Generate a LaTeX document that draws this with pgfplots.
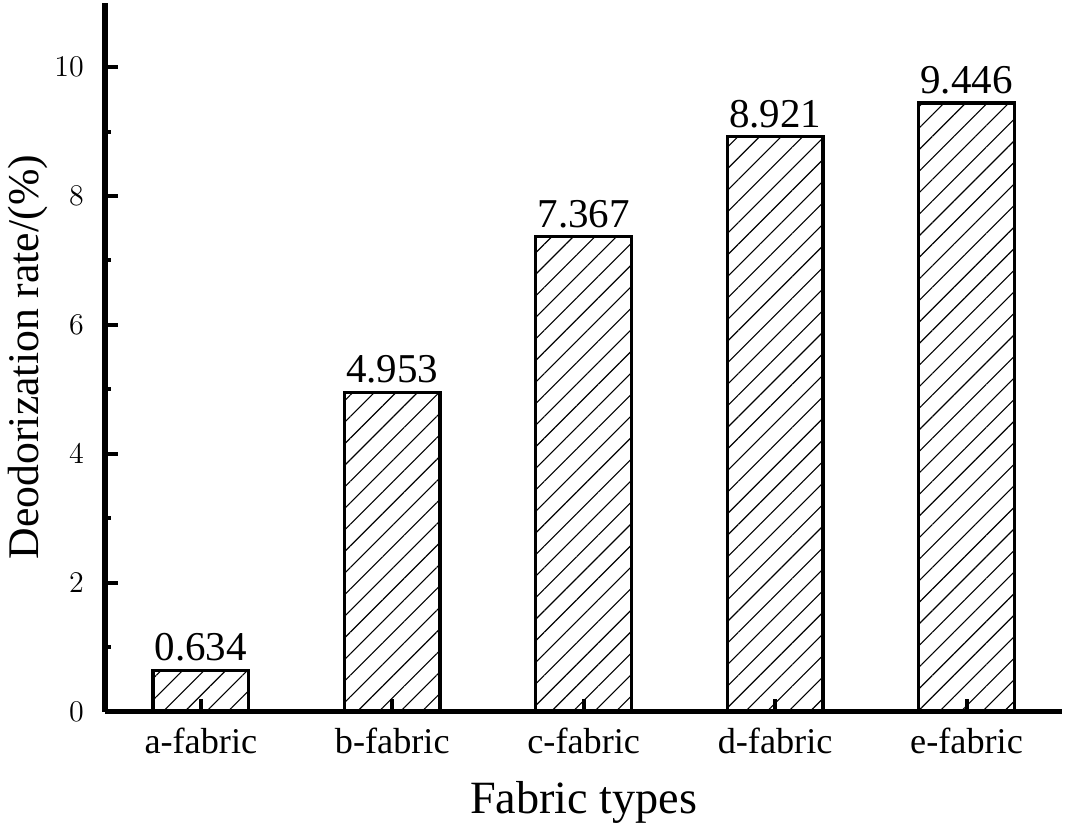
\documentclass[border=0pt]{standalone}
\usepackage{fontspec}
\setmainfont{Liberation Serif}
\usepackage{pgfplots}
\pgfplotsset{compat=1.18}
\usetikzlibrary{patterns.meta}
\begin{document}
\begin{tikzpicture}
\begin{axis}[
  width=383pt, height=283.6pt, scale only axis,
  xmin=-0.5, xmax=4.5, ymin=0, ymax=11,
  axis x line=bottom, axis y line=left,
  axis line style={line width=2.2pt, -},
  axis on top,
  ybar, bar width=0.5,
  xtick={0,1,2,3,4},
  xticklabels={a-fabric,b-fabric,c-fabric,d-fabric,e-fabric},
  ytick={0,2,4,6,8,10},
  minor y tick num=1,
  tick align=inside,
  major tick length=5pt, minor tick length=2.2pt,
  every tick/.style={black, line width=1.6pt},
  x tick label style={font=\fontsize{14.5}{16}\selectfont, yshift=-3pt},
  y tick label style={font=\fontsize{12}{14}\selectfont, xshift=-5pt},
  xlabel={Fabric types},
  ylabel={Deodorization rate/(\%)},
  xlabel style={font=\fontsize{18.5}{20}\selectfont, at={(axis description cs:0.5,-0.128)}, anchor=center},
  ylabel style={font=\fontsize{17.5}{19}\selectfont, at={(axis description cs:-0.0804,0.5)}, anchor=center},
  nodes near coords,
  nodes near coords style={font=\fontsize{16.4}{18}\selectfont, anchor=south, inner sep=0pt, yshift=3pt,
    /pgf/number format/assume math mode=true,
    /pgf/number format/fixed, /pgf/number format/precision=3, /pgf/number format/fixed zerofill},
]
\addplot[draw=black, line width=1.3pt, pattern={Lines[angle=45, distance=6.1pt, line width=0.45pt]}, pattern color=black]
  coordinates {(0,0.634) (1,4.953) (2,7.367) (3,8.921) (4,9.446)};
\end{axis}
\end{tikzpicture}
\end{document}
